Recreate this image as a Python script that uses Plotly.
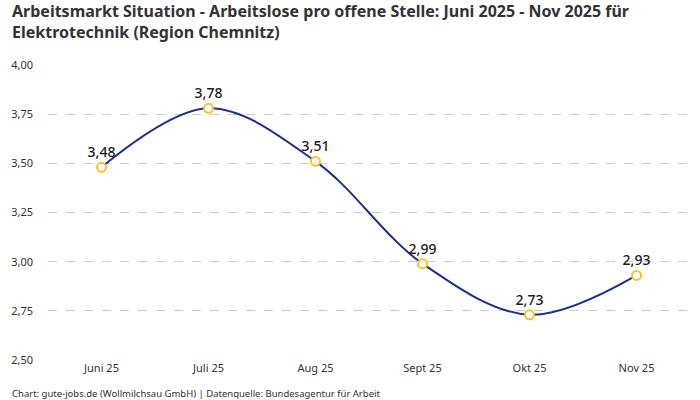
import plotly.graph_objects as go

months = ["Juni 25", "Juli 25", "Aug 25", "Sept 25", "Okt 25", "Nov 25"]
values = [3.48, 3.78, 3.51, 2.99, 2.73, 2.93]
labels = [f"{v:.2f}".replace(".", ",") for v in values]
y_ticks = [2.50, 2.75, 3.00, 3.25, 3.50, 3.75, 4.00]
y_tick_text = [f"{v:.2f}".replace(".", ",") for v in y_ticks]

font = "Noto Sans"

fig = go.Figure(
    go.Scatter(
        x=months,
        y=values,
        mode="lines+markers+text",
        line=dict(color="#1f2f8f", width=2, shape="spline", smoothing=1.0),
        marker=dict(size=9, color="white", line=dict(color="#f7c22a", width=2)),
        text=labels,
        textposition="top center",
        textfont=dict(family=font, size=14, color="#1a1a1a", weight=500),
        cliponaxis=False,
        hoverinfo="skip",
    )
)

fig.update_layout(
    width=700,
    height=400,
    margin=dict(l=48, r=10, t=65, b=40),
    paper_bgcolor="white",
    plot_bgcolor="white",
    showlegend=False,
    font=dict(family=font, size=11, color="#333333"),
    xaxis=dict(
        showgrid=False,
        showline=False,
        ticks="",
        automargin=False,
        tickfont=dict(size=11, color="#333333"),
        range=[-0.5, 5.5],
    ),
    yaxis=dict(
        range=[2.5, 4.0],
        tickvals=y_ticks,
        ticktext=y_tick_text,
        showgrid=True,
        gridcolor="#cccccc",
        griddash="dash",
        gridwidth=1,
        zeroline=False,
        showline=False,
        ticks="",
        automargin=False,
        ticklabelstandoff=14,
        tickfont=dict(size=11, color="#333333"),
    ),
    annotations=[
        dict(
            text="<b>Arbeitsmarkt Situation - Arbeitslose pro offene Stelle: Juni 2025 - Nov 2025 für<br>Elektrotechnik (Region Chemnitz)</b>",
            xref="paper",
            yref="paper",
            x=-0.0592,
            y=1.226,
            xanchor="left",
            yanchor="top",
            align="left",
            showarrow=False,
            font=dict(family=font, size=16, color="#333333"),
        ),
        dict(
            text="Chart: gute-jobs.de (Wollmilchsau GmbH) | Datenquelle: Bundesagentur für Arbeit",
            xref="paper",
            yref="paper",
            x=-0.0592,
            y=-0.112,
            xanchor="left",
            yanchor="middle",
            showarrow=False,
            font=dict(family=font, size=9.5, color="#333333"),
        ),
    ],
)

# default page has an 8px body margin, drop it so the figure sits at 0,0
fig.write_html(
    "out.html",
    config={"displayModeBar": False},
    post_script="document.body.style.margin='0';",
)
